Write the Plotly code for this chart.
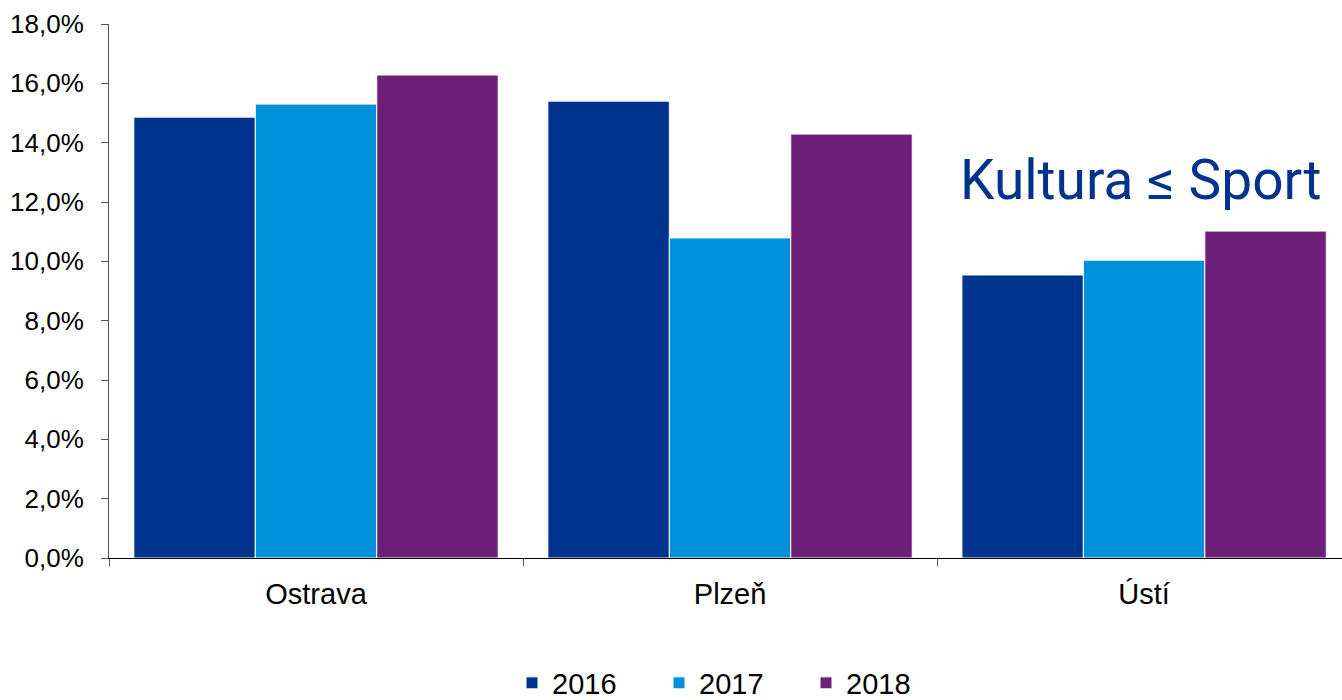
import plotly.graph_objects as go

categories = ["Ostrava", "Plzeň", "Ústí"]
years = ["2016", "2017", "2018"]
v2016 = [14.86, 15.40, 9.54]
v2017 = [15.30, 10.79, 10.04]
v2018 = [16.28, 14.29, 11.02]
colors = ["#00338D", "#0091DA", "#6D2077"]
y_ticks = [0, 2, 4, 6, 8, 10, 12, 14, 16, 18]

fig = go.Figure()
for name, vals, col in zip(years, [v2016, v2017, v2018], colors):
    fig.add_trace(go.Bar(
        x=categories, y=vals, name=name,
        marker=dict(color=col, line=dict(color="white", width=1)),
    ))

font_family = "Liberation Sans, Arial, sans-serif"
fig.update_layout(
    width=1342, height=700,
    margin=dict(l=109, r=0, t=24, b=142, autoexpand=False),
    paper_bgcolor="white", plot_bgcolor="white",
    barmode="group", bargap=0.12, bargroupgap=0,
    font=dict(family=font_family, color="#000000"),
    showlegend=True,
    legend=dict(
        orientation="h", x=0.5 + 7 / 1233, xanchor="center",
        yref="container", y=17 / 700, yanchor="middle",
        font=dict(size=29, family=font_family),
        entrywidth=102, entrywidthmode="pixels",
        itemclick=False,
    ),
    xaxis=dict(
        range=[-0.5, 2.478],
        showline=True, linecolor="#000000", linewidth=1,
        ticks="outside", tickson="boundaries", ticklen=7, tickcolor="#555555",
        tickfont=dict(size=29, family=font_family),
        ticklabelstandoff=10,
        showgrid=False,
    ),
    yaxis=dict(
        range=[0, 18],
        tickvals=y_ticks,
        ticktext=[f"{v},0%" for v in y_ticks],
        showline=True, linecolor="#555555", linewidth=1,
        ticks="outside", ticklen=7, tickcolor="#555555",
        tickfont=dict(size=26, family=font_family),
        ticklabelstandoff=12,
        showgrid=False, zeroline=False,
    ),
    annotations=[dict(
        text="Kultura ≤ Sport", x=(1141 - 109) / (1342 - 109), y=12.75,
        xref="paper", yref="y", showarrow=False,
        font=dict(size=55, family="Roboto, Liberation Sans, sans-serif", color="#00338D"),
        xanchor="center", yanchor="middle",
    )],
)
fig.write_html(
    "out.html",
    config={"displayModeBar": False},
    post_script="document.body.style.margin='0';document.body.style.overflow='hidden';",
)
